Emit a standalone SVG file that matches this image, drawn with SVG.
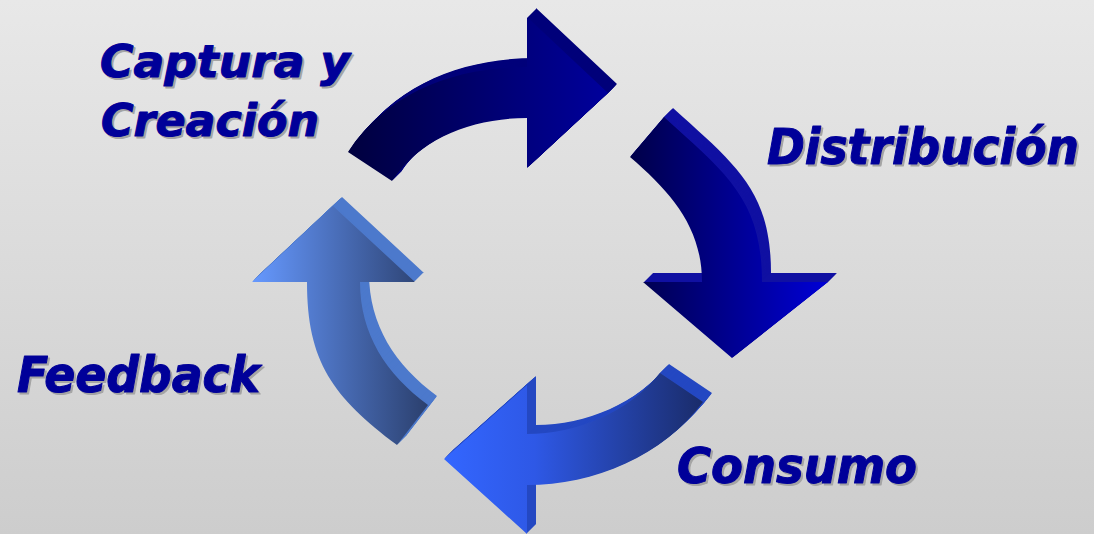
<svg xmlns="http://www.w3.org/2000/svg" width="1094" height="534" viewBox="0 0 1094 534">
  <defs>
    <linearGradient id="bg" x1="0" y1="0" x2="0" y2="1">
      <stop offset="0" stop-color="#e8e8e8"/>
      <stop offset="1" stop-color="#cdcdcd"/>
    </linearGradient>
    <linearGradient id="g1" gradientUnits="userSpaceOnUse" x1="348" y1="0" x2="608" y2="0">
      <stop offset="0" stop-color="#00003e"/>
      <stop offset="1" stop-color="#00009c"/>
    </linearGradient>
    <linearGradient id="g2" gradientUnits="userSpaceOnUse" x1="630" y1="0" x2="828" y2="0">
      <stop offset="0" stop-color="#000048"/>
      <stop offset="1" stop-color="#0000d6"/>
    </linearGradient>
    <linearGradient id="g3" gradientUnits="userSpaceOnUse" x1="444" y1="0" x2="703" y2="0">
      <stop offset="0" stop-color="#3366ff"/>
      <stop offset="0.35" stop-color="#2e58e6"/>
      <stop offset="1" stop-color="#1a2c6a"/>
    </linearGradient>
    <linearGradient id="g4" gradientUnits="userSpaceOnUse" x1="252" y1="0" x2="425" y2="0">
      <stop offset="0" stop-color="#6699ff"/>
      <stop offset="1" stop-color="#2c4170"/>
    </linearGradient>
    <path id="p1" d="M348,152 C388,91 457,67 527,67 L527,17 L608,93 L527,168 L527,118 C474,118 421,137 392,181 Z"/>
    <path id="p2" d="M664,117 C727,174 762,200 762,282 L828,282 L732,358 L643,282 L702,282 C702,228 672,193 630,157 Z"/>
    <path id="p3" d="M703,402 C663,456 594,485 527,485 L527,534 L444,459 L527,385 L527,434 C577,434 629,412 660,373 Z"/>
    <path id="p4" d="M397,445 C333,397 307,362 307,282 L252,282 L333,206 L415,282 L360,282 C360,334 386,374 428,405 Z"/>
  </defs>
  <style>
    .lbl { font-family: "DejaVu Sans Condensed", "DejaVu Sans", Verdana, sans-serif; font-stretch: condensed; font-weight: bold; font-style: italic; stroke-width: 1; stroke-linejoin: round; }
    .fg { fill: #000099; stroke: #000099; }
    .sh { fill: #a4a4a4; stroke: #a4a4a4; }
    .s1 { fill: #00007a; }
    .s2 { fill: #1010a2; }
    .s3 { fill: #2448c2; }
    .s4 { fill: #4c79cc; }
  </style>
  <rect x="0" y="0" width="1094" height="534" fill="url(#bg)"/>

  <g id="connectors">
    <g id="arrow-capture">
      <use href="#p1" class="s1" transform="translate(9,-9)"/>
      <use href="#p1" class="s1" transform="translate(8,-8)"/>
      <use href="#p1" class="s1" transform="translate(7,-7)"/>
      <use href="#p1" class="s1" transform="translate(6,-6)"/>
      <use href="#p1" class="s1" transform="translate(5,-5)"/>
      <use href="#p1" class="s1" transform="translate(4,-4)"/>
      <use href="#p1" class="s1" transform="translate(3,-3)"/>
      <use href="#p1" class="s1" transform="translate(2,-2)"/>
      <use href="#p1" class="s1" transform="translate(1,-1)"/>
      <use href="#p1" fill="url(#g1)"/>
    </g>
    <g id="arrow-distribution">
      <use href="#p2" class="s2" transform="translate(9,-9)"/>
      <use href="#p2" class="s2" transform="translate(8,-8)"/>
      <use href="#p2" class="s2" transform="translate(7,-7)"/>
      <use href="#p2" class="s2" transform="translate(6,-6)"/>
      <use href="#p2" class="s2" transform="translate(5,-5)"/>
      <use href="#p2" class="s2" transform="translate(4,-4)"/>
      <use href="#p2" class="s2" transform="translate(3,-3)"/>
      <use href="#p2" class="s2" transform="translate(2,-2)"/>
      <use href="#p2" class="s2" transform="translate(1,-1)"/>
      <use href="#p2" fill="url(#g2)"/>
    </g>
    <g id="arrow-consumption">
      <use href="#p3" class="s3" transform="translate(9,-9)"/>
      <use href="#p3" class="s3" transform="translate(8,-8)"/>
      <use href="#p3" class="s3" transform="translate(7,-7)"/>
      <use href="#p3" class="s3" transform="translate(6,-6)"/>
      <use href="#p3" class="s3" transform="translate(5,-5)"/>
      <use href="#p3" class="s3" transform="translate(4,-4)"/>
      <use href="#p3" class="s3" transform="translate(3,-3)"/>
      <use href="#p3" class="s3" transform="translate(2,-2)"/>
      <use href="#p3" class="s3" transform="translate(1,-1)"/>
      <use href="#p3" fill="url(#g3)"/>
    </g>
    <g id="arrow-feedback">
      <use href="#p4" class="s4" transform="translate(9,-9)"/>
      <use href="#p4" class="s4" transform="translate(8,-8)"/>
      <use href="#p4" class="s4" transform="translate(7,-7)"/>
      <use href="#p4" class="s4" transform="translate(6,-6)"/>
      <use href="#p4" class="s4" transform="translate(5,-5)"/>
      <use href="#p4" class="s4" transform="translate(4,-4)"/>
      <use href="#p4" class="s4" transform="translate(3,-3)"/>
      <use href="#p4" class="s4" transform="translate(2,-2)"/>
      <use href="#p4" class="s4" transform="translate(1,-1)"/>
      <use href="#p4" fill="url(#g4)"/>
    </g>
  </g>

  <g id="node-captura">
    <text class="lbl sh" x="102" y="79" font-size="45" textLength="250" lengthAdjust="spacingAndGlyphs">Captura y</text>
    <text class="lbl fg" x="100" y="77" font-size="45" textLength="250" lengthAdjust="spacingAndGlyphs">Captura y</text>
    <text class="lbl sh" x="103" y="138" font-size="45" textLength="218" lengthAdjust="spacingAndGlyphs">Creación</text>
    <text class="lbl fg" x="101" y="136" font-size="45" textLength="218" lengthAdjust="spacingAndGlyphs">Creación</text>
  </g>
  <g id="node-distribucion">
    <text class="lbl sh" x="769" y="166" font-size="50" textLength="312" lengthAdjust="spacingAndGlyphs">Distribución</text>
    <text class="lbl fg" x="767" y="164" font-size="50" textLength="312" lengthAdjust="spacingAndGlyphs">Distribución</text>
  </g>
  <g id="node-consumo">
    <text class="lbl sh" x="679" y="485" font-size="50" textLength="240" lengthAdjust="spacingAndGlyphs">Consumo</text>
    <text class="lbl fg" x="677" y="483" font-size="50" textLength="240" lengthAdjust="spacingAndGlyphs">Consumo</text>
  </g>
  <g id="node-feedback">
    <text class="lbl sh" x="19" y="394" font-size="50" textLength="243" lengthAdjust="spacingAndGlyphs">Feedback</text>
    <text class="lbl fg" x="17" y="392" font-size="50" textLength="243" lengthAdjust="spacingAndGlyphs">Feedback</text>
  </g>
</svg>
